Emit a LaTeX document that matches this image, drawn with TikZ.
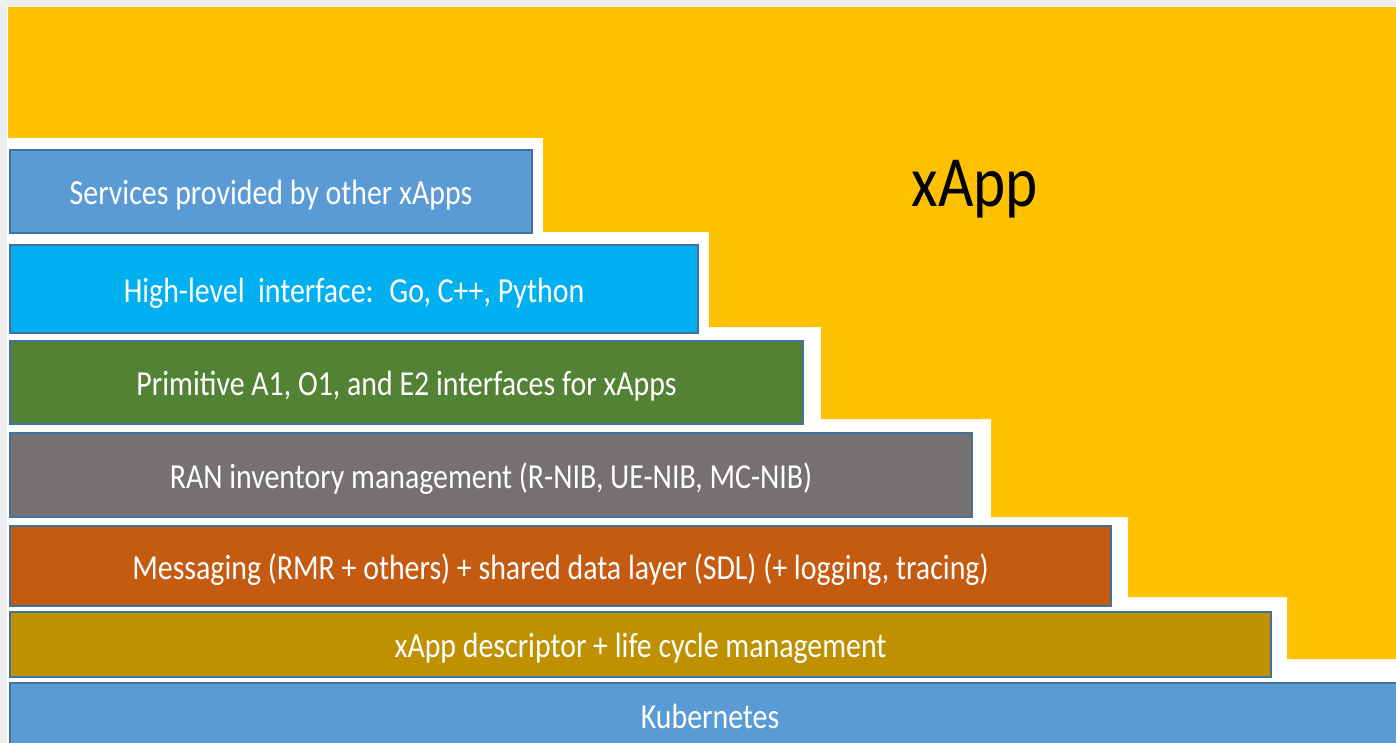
\documentclass[tikz,border=0pt]{standalone}
\usepackage{fontspec}
\setmainfont{Carlito}[FakeStretch=0.85]
\usetikzlibrary{positioning}

% Colores de las capas
\definecolor{amarilloApp}{HTML}{FFC000}
\definecolor{azulServ}{HTML}{5B9BD5}
\definecolor{celeste}{HTML}{00B0F0}
\definecolor{verdeIf}{HTML}{548235}
\definecolor{grisRan}{HTML}{767171}
\definecolor{naranjaMsg}{HTML}{C55A11}
\definecolor{doradoDesc}{HTML}{BF9000}
\definecolor{bordeCapa}{HTML}{41719C}
\definecolor{grisMarco}{HTML}{EEEEEE}

\newcommand{\upx}{0.02cm}
% texto algo más bajo sin cambiar el tamaño del nodo
\newcommand{\textocapa}[1]{\raisebox{-2.3pt}[\height][\depth]{#1}}

\tikzset{
  capa/.style={draw=bordeCapa, line width=0.6pt, text=white, inner sep=0pt,
    font=\fontsize{20}{24}\selectfont}
}

\begin{document}
\begin{tikzpicture}[x=0.02cm, y=-0.02cm]
    % Marco de la página
    \useasboundingbox (0,0) rectangle (1396,743);
    \fill[white] (0,0) rectangle (1396,743);
    \fill[grisMarco] (0,0) rectangle (1396,6);
    \fill[grisMarco] (0,0) rectangle (7,743);

    % Fondo escalonado del xApp
    \fill[amarilloApp] (8,7) -- (1396,7) -- (1396,659) -- (1287,659)
        -- (1287,597) -- (1128,597) -- (1128,517) -- (991,517)
        -- (991,419) -- (821,419) -- (821,327) -- (709,327)
        -- (709,232) -- (543,232) -- (543,138) -- (8,138) -- cycle;
    \node[font=\fontsize{41}{48}\selectfont] (xapp) at (975,189) {xApp};

    % Capas (de arriba hacia abajo)
    \node[capa, fill=azulServ, minimum width=522*\upx, minimum height=83*\upx]
        (serv) at (271,191.5) {\textocapa{Services provided by other xApps}};
    \node[capa, fill=celeste, minimum width=688*\upx, minimum height=88*\upx]
        (alto) at (354,289) {\textocapa{High-level~ interface:~ Go, C++, Python}};
    \node[capa, fill=verdeIf, minimum width=793*\upx, minimum height=83*\upx]
        (prim) at (406.5,382.5) {\textocapa{Primitive A1, O1, and E2 interfaces for xApps}};
    \node[capa, fill=grisRan, minimum width=962*\upx, minimum height=84*\upx]
        (ran) at (491,475) {\textocapa{RAN inventory management (R-NIB, UE-NIB, MC-NIB)}};
    \node[capa, fill=naranjaMsg, minimum width=1101*\upx, minimum height=80*\upx]
        (msg) at (560.5,566) {\textocapa{Messaging (RMR + others) + shared data layer (SDL) (+ logging, tracing)}};
    \node[capa, fill=doradoDesc, minimum width=1261*\upx, minimum height=65*\upx]
        (desc) at (640.5,644.5) {\textocapa{xApp descriptor + life cycle management}};
    \node[capa, fill=azulServ, minimum width=1400*\upx, minimum height=67*\upx]
        (kube) at (710,716.5) {Kubernetes};

\end{tikzpicture}
\end{document}
